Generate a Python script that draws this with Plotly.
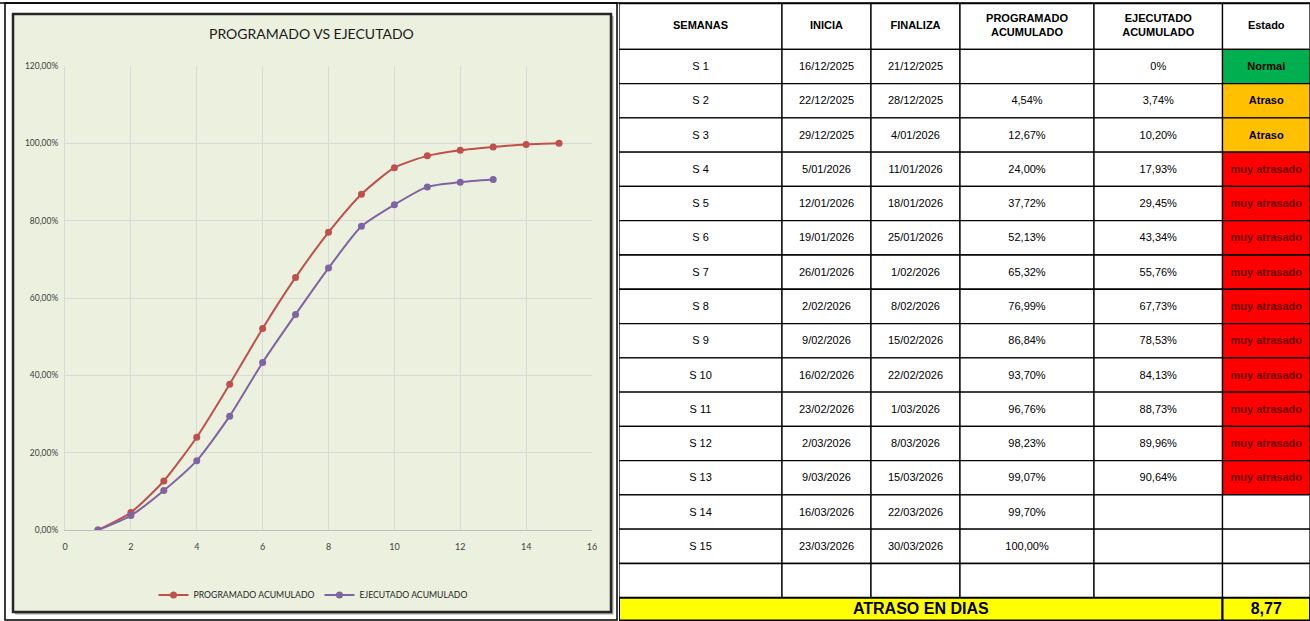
import plotly.graph_objects as go

# ---- data -------------------------------------------------------------
semanas = [f"S {i}" for i in range(1, 16)]
inicia = ["16/12/2025", "22/12/2025", "29/12/2025", "5/01/2026", "12/01/2026",
          "19/01/2026", "26/01/2026", "2/02/2026", "9/02/2026", "16/02/2026",
          "23/02/2026", "2/03/2026", "9/03/2026", "16/03/2026", "23/03/2026"]
finaliza = ["21/12/2025", "28/12/2025", "4/01/2026", "11/01/2026", "18/01/2026",
            "25/01/2026", "1/02/2026", "8/02/2026", "15/02/2026", "22/02/2026",
            "1/03/2026", "8/03/2026", "15/03/2026", "22/03/2026", "30/03/2026"]
semana_num = list(range(1, 16))
programado = [0.0, 4.54, 12.67, 24.00, 37.72, 52.13, 65.32, 76.99, 86.84, 93.70,
              96.76, 98.23, 99.07, 99.70, 100.00]
ejecutado = [0.0, 3.74, 10.20, 17.93, 29.45, 43.34, 55.76, 67.73, 78.53, 84.13,
             88.73, 89.96, 90.64]
estado = ["Normal", "Atraso", "Atraso"] + ["muy atrasado"] * 10 + ["", ""]
encabezados = ["SEMANAS", "INICIA", "FINALIZA", "PROGRAMADO<br>ACUMULADO",
               "EJECUTADO<br>ACUMULADO", "Estado"]
atraso_label = "ATRASO EN DIAS"
atraso_dias = "8,77"

# ---- page geometry (pixels) -------------------------------------------
W, H = 1310, 621
def px(x):
    return x / W
def py(y):
    return 1 - y / H

RED = "#C0504D"
PURPLE = "#8064A2"
CHART_BG = "#EBF1DE"
FONT_TBL = "Liberation Sans, Arial"
FONT_CHART = "Lato, Open Sans"

def pct(v):
    return f"{v:.2f}".replace(".", ",") + "%"

fig = go.Figure()

# ---- curves -----------------------------------------------------------
fig.add_trace(go.Scatter(
    x=semana_num, y=[v / 100 for v in programado], name="PROGRAMADO ACUMULADO",
    mode="lines+markers", line=dict(color=RED, width=2, shape="spline", smoothing=0.6),
    marker=dict(color=RED, size=7), xaxis="x", yaxis="y"))
fig.add_trace(go.Scatter(
    x=semana_num[:len(ejecutado)], y=[v / 100 for v in ejecutado], name="EJECUTADO ACUMULADO",
    mode="lines+markers", line=dict(color=PURPLE, width=2, shape="spline", smoothing=0.6),
    marker=dict(color=PURPLE, size=7), xaxis="x", yaxis="y"))

# ---- table (drawn on a pixel-scaled helper axis pair x2/y2) -----------
col_edges = [619, 782, 871, 960, 1094, 1222.5, 1310]
table_top, header_bottom, row_h = 3.5, 49.3, 34.28
n_rows = len(semanas) + 1            # 15 weeks + one empty row
body_bottom = header_bottom + row_h * n_rows
footer_bottom = 620.5

prog_txt = [""] + [pct(v) for v in programado[1:]] + [""]
ejec_txt = ["0%"] + [pct(v) for v in ejecutado[1:]] + [""] * (15 - len(ejecutado)) + [""]
est_col = estado + [""]
columns = [semanas + [""], inicia + [""], finaliza + [""], prog_txt, ejec_txt, est_col]

fills = {"Normal": "#00B050", "Atraso": "#FFC000", "muy atrasado": "#FF0000", "": "white"}
text_colors = {"Normal": "#000000", "Atraso": "#000000", "muy atrasado": "#6E0000", "": "#000000"}

table_shapes = []
tx, ty, tt, tc, ts = [], [], [], [], []

def cell(x0, x1, y0, y1, fill, lw=1.0):
    table_shapes.append(dict(type="rect", xref="x2", yref="y2", x0=x0, x1=x1, y0=y0, y1=y1,
                             fillcolor=fill, line=dict(color="black", width=lw), layer="below"))

def label(x, y, text, color="#000000", size=11):
    tx.append(x); ty.append(y); tt.append(text); tc.append(color); ts.append(size)

# header
for j, head in enumerate(encabezados):
    x0, x1 = col_edges[j], col_edges[j + 1]
    cell(x0, x1, table_top, header_bottom, "white", 1.3)
    label((x0 + x1) / 2, (table_top + header_bottom) / 2, f"<b>{head}</b>")

# body
for i in range(n_rows):
    y0 = header_bottom + i * row_h
    y1 = y0 + row_h
    yc = (y0 + y1) / 2 + 0.8
    for j, col in enumerate(columns):
        x0, x1 = col_edges[j], col_edges[j + 1]
        value = col[i]
        if j == 5:
            cell(x0, x1, y0, y1, fills[value], 1.3)
            if value:
                label((x0 + x1) / 2, yc,
                      "<b>" + value.replace(" ", "\u00a0") + "</b>", text_colors[value])
        else:
            cell(x0, x1, y0, y1, "white", 1.3)
            if value:
                label((x0 + x1) / 2, yc, value)

# footer: delay in days
cell(col_edges[0], col_edges[5], body_bottom, footer_bottom, "#FFFF00", 2)
cell(col_edges[5], col_edges[6], body_bottom, footer_bottom, "#FFFF00", 2)
label((col_edges[0] + col_edges[5]) / 2, (body_bottom + footer_bottom) / 2 + 1,
      f"<b>{atraso_label}</b>", size=16)
label((col_edges[5] + col_edges[6]) / 2, (body_bottom + footer_bottom) / 2 + 1,
      f"<b>{atraso_dias}</b>", size=16)

fig.add_trace(go.Scatter(
    x=tx, y=ty, text=tt, mode="text", textposition="middle center",
    textfont=dict(family=FONT_TBL, size=ts, color=tc),
    xaxis="x2", yaxis="y2", showlegend=False, hoverinfo="skip", cliponaxis=False))

# ---- chart frame ------------------------------------------------------
frame_shapes = [
    dict(type="rect", xref="paper", yref="paper", x0=px(5), x1=px(617), y0=py(620), y1=py(3),
         line=dict(color="black", width=1.5), fillcolor="white", layer="below"),
    dict(type="rect", xref="paper", yref="paper", x0=px(15), x1=px(613.5), y0=py(614.5), y1=py(16),
         line=dict(width=0), fillcolor="#A6A6A6", layer="below"),
    dict(type="rect", xref="paper", yref="paper", x0=px(13), x1=px(611), y0=py(612), y1=py(14),
         line=dict(color="#262626", width=2.5), fillcolor=CHART_BG, layer="below"),
    dict(type="line", xref="paper", yref="paper", x0=0, x1=1, y0=py(3), y1=py(3),
         line=dict(color="black", width=1.5)),
]

fig.update_layout(
    width=W, height=H, margin=dict(l=0, r=0, t=0, b=0, autoexpand=False),
    paper_bgcolor="white", plot_bgcolor="rgba(0,0,0,0)",
    separators=",.",
    shapes=frame_shapes + table_shapes,
    annotations=[dict(text="PROGRAMADO VS EJECUTADO", xref="paper", yref="paper",
                      x=px(311), y=py(33), showarrow=False, xanchor="center", yanchor="middle",
                      font=dict(family=FONT_CHART, size=14, color="#1a1a1a"))],
    xaxis=dict(domain=[px(65), px(592)], range=[0, 16], dtick=2, tick0=0,
               showgrid=True, gridcolor="#D9D9D9", gridwidth=1, zeroline=False,
               showline=True, linecolor="#BFBFBF", linewidth=1, anchor="y",
               ticks="", ticklabelstandoff=8,
               tickfont=dict(family=FONT_CHART, size=9, color="#404040"), fixedrange=True),
    yaxis=dict(domain=[py(530), py(66)], range=[0, 1.2], dtick=0.2, tick0=0,
               tickformat=".2%", showgrid=True, gridcolor="#D9D9D9", gridwidth=1,
               zeroline=False, showline=True, linecolor="#D9D9D9", linewidth=1, anchor="x",
               ticks="", ticklabelstandoff=4,
               tickfont=dict(family=FONT_CHART, size=8.5, color="#404040"), fixedrange=True),
    xaxis2=dict(domain=[px(col_edges[0]), 1], range=[col_edges[0], W], visible=False,
                anchor="y2", fixedrange=True),
    yaxis2=dict(domain=[0, 1], range=[H, 0], visible=False, anchor="x2", fixedrange=True),
    legend=dict(orientation="h", x=px(313), xanchor="center", y=py(595), yanchor="middle",
                bgcolor="rgba(0,0,0,0)", font=dict(family=FONT_CHART, size=8.7, color="#262626"),
                itemwidth=30),
    showlegend=True,
)

fig.write_html("out.html")
